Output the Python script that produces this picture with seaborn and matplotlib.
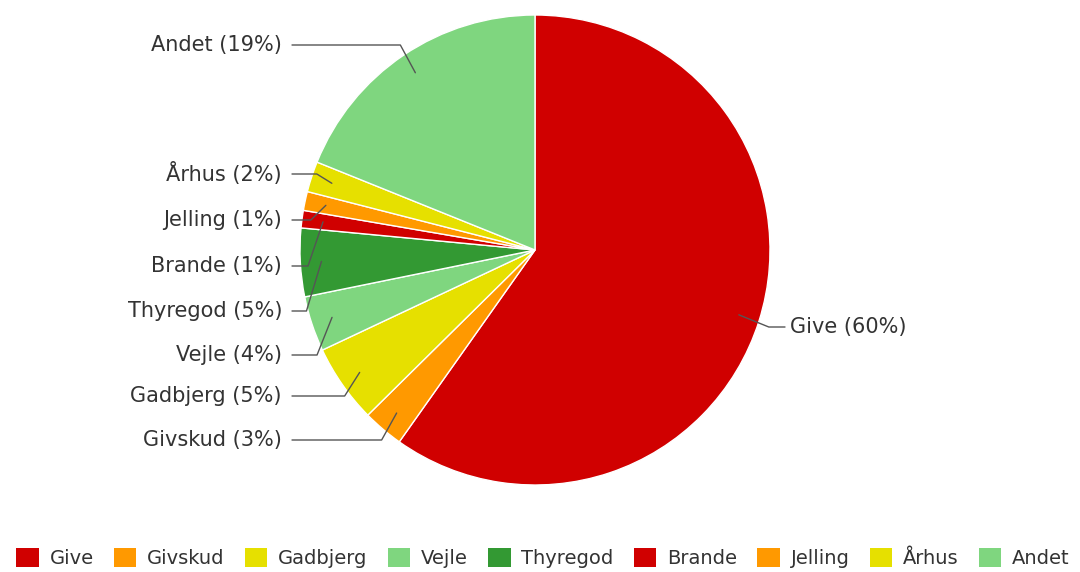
import numpy as np
import matplotlib
matplotlib.use("Agg")
import matplotlib.pyplot as plt
from matplotlib.patches import Patch
import seaborn as sns

# Share of records by town (percent), clockwise from 12 o'clock
towns = ["Give", "Givskud", "Gadbjerg", "Vejle", "Thyregod", "Brande", "Jelling", "Århus", "Andet"]
shares = [59.8, 2.8, 5.4, 3.8, 4.7, 1.2, 1.3, 2.1, 18.9]
colors = ["#D00000", "#FF9900", "#E6E000", "#7FD67F", "#339933",
          "#D00000", "#FF9900", "#E6E000", "#7FD67F"]

sns.set_theme(style="white")
plt.rcParams["font.family"] = ["DejaVu Sans"]
text_color = "#333333"

W, H = 1080, 572
fig = plt.figure(figsize=(W / 100, H / 100), dpi=100)
ax = fig.add_axes([0, 0, 1, 1])

cx, cy, R = 535, H - 250, 235
wedges, _ = ax.pie(shares, colors=colors, startangle=90, counterclock=False,
                   center=(cx, cy), radius=R, frame=True,
                   wedgeprops=dict(edgecolor="white", linewidth=1))
ax.set_xlim(0, W)
ax.set_ylim(0, H)
ax.set_aspect("equal")
ax.axis("off")

# Label placement (pixel rows from top)
label_rows = {"Give": 327, "Givskud": 440, "Gadbjerg": 396, "Vejle": 355,
              "Thyregod": 311, "Brande": 266, "Jelling": 220, "Århus": 174,
              "Andet": 45}
left_x, right_x = 282, 790
label_size = 15

for w, name, val in zip(wedges, towns, shares):
    mid = np.deg2rad((w.theta1 + w.theta2) / 2)
    ax_x = cx + 0.91 * R * np.cos(mid)
    ax_y = cy + 0.91 * R * np.sin(mid)
    ly = H - label_rows[name]
    label = f"{name} ({round(val):.0f}%)"
    if np.cos(mid) >= 0:
        ex = ax_x + 30
        ax.plot([ax_x, ex, right_x - 5], [ax_y, ly, ly], color="#555555", lw=1)
        ax.text(right_x, ly, label, ha="left", va="center", fontsize=label_size, color=text_color)
    else:
        ex = max(left_x + 12, ax_x - 15)
        ax.plot([ax_x, ex, left_x + 10], [ax_y, ly, ly], color="#555555", lw=1)
        ax.text(left_x, ly, label, ha="right", va="center", fontsize=label_size, color=text_color)

handles = [Patch(facecolor=c, edgecolor="none") for c in colors]
fig.legend(handles, towns, loc="center", bbox_to_anchor=(543 / W, 1 - 558 / H), ncol=9,
           frameon=False, fontsize=14, handlelength=1.15, handleheight=1.15,
           handletextpad=0.55, columnspacing=1.05, labelcolor=text_color,
           borderaxespad=0, borderpad=0)

fig.savefig("out.png", dpi=100)
